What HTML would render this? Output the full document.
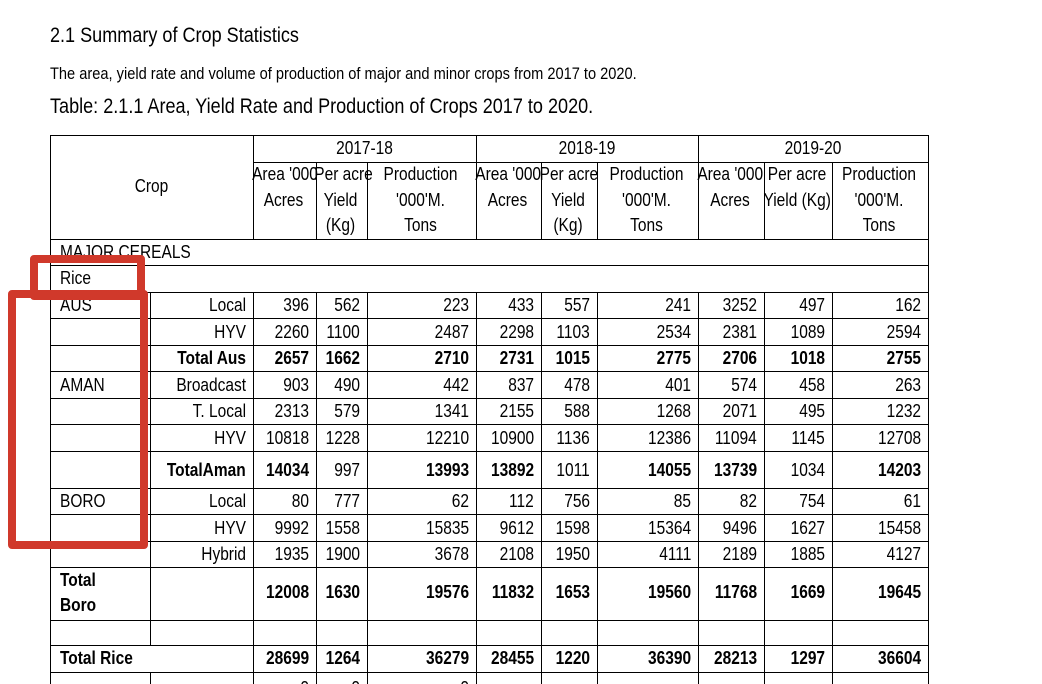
<!DOCTYPE html>
<html><head><meta charset="utf-8">
<style>
body{margin:0;background:#fff;}
#pg{position:relative;width:1042px;height:684px;overflow:hidden;background:#fff;font-family:"Liberation Sans",Arial,sans-serif;color:#000;}
.t{position:absolute;white-space:nowrap;font-size:18px;line-height:20px;}
.r{transform:scaleX(.86);transform-origin:right center;text-align:right;}
.l{transform:scaleX(.86);transform-origin:left center;}
.c{transform:scaleX(.86);transform-origin:center center;text-align:center;}
.b{font-weight:bold;}
.hl{position:absolute;height:1px;background:#000;}
.vl{position:absolute;width:1px;background:#000;}
.box{position:absolute;border:8px solid #d0392b;border-radius:4px;box-sizing:border-box;}
</style></head><body>
<div id="pg">
<div class="t l" style="left:50px;top:24px;font-size:21px;line-height:24px">2.1 Summary of Crop Statistics</div>
<div class="t l" style="left:50px;top:64px;font-size:17px">The area, yield rate and volume of production of major and minor crops from 2017 to 2020.</div>
<div class="t l" style="left:50px;top:95px;font-size:21px;line-height:24px">Table: 2.1.1 Area, Yield Rate and Production of Crops 2017 to 2020.</div>
<div id="tbl"></div>
<div class="box" style="left:30px;top:255px;width:115px;height:45px"></div>
<div class="box" style="left:8px;top:290px;width:140px;height:259px"></div>
</div>
<script>
const labels1=["AUS","","","AMAN","","","","BORO","",""];
const labels2=["Local","HYV","Total Aus","Broadcast","T. Local","HYV","TotalAman","Local","HYV","Hybrid"];
const rowVals=[
[396,562,223,433,557,241,3252,497,162],
[2260,1100,2487,2298,1103,2534,2381,1089,2594],
[2657,1662,2710,2731,1015,2775,2706,1018,2755],
[903,490,442,837,478,401,574,458,263],
[2313,579,1341,2155,588,1268,2071,495,1232],
[10818,1228,12210,10900,1136,12386,11094,1145,12708],
[14034,997,13993,13892,1011,14055,13739,1034,14203],
[80,777,62,112,756,85,82,754,61],
[9992,1558,15835,9612,1598,15364,9496,1627,15458],
[1935,1900,3678,2108,1950,4111,2189,1885,4127]];
const totalBoro=[12008,1630,19576,11832,1653,19560,11768,1669,19645];
const totalRice=[28699,1264,36279,28455,1220,36390,28213,1297,36604];
const years=["2017-18","2018-19","2019-20"];
const X=[50,150,253,316,367,476,541,597,698,764,832,928];
const rowY=[292,318,345,371,398,424,451,488,514,541,567];
const tb=document.getElementById('tbl');
function line(cls,l,t,w,h,name){const d=document.createElement('div');d.className=cls;d.style.left=l+'px';d.style.top=t+'px';
if(cls==='hl')d.style.width=w+'px';else d.style.height=h+'px';


tb.appendChild(d);}
function txt(s,x1,x2,yc,al,bold,name){const d=document.createElement('div');d.className='t '+al+(bold?' b':'');d.textContent=s;
d.style.top=(yc-10)+'px';
if(al==='r'){d.style.right=(1042-x2+7)+'px';}else if(al==='l'){d.style.left=(x1+10)+'px';}else{d.style.left=x1+'px';d.style.width=(x2-x1)+'px';d.style.overflow='visible';}


tb.appendChild(d);}
// horizontal lines
[135,239,265,292,318,345,371,398,424,451,488,514,541,567,620,645,672].forEach((y,i)=>line('hl',50,y,879,0,'row-border'));
line('hl',253,162,676,0,'year-row-border');
// outer verticals
line('vl',50,135,0,549,'table-left-border');line('vl',928,135,0,549,'table-right-border');
// header verticals
for(let i=2;i<X.length-1;i++){const major=(i===2||i===5||i===8);line('vl',X[i],major?135:162,0,major?104:77,'header-col-border');}
// body verticals
for(let i=1;i<X.length-1;i++){const top=292;const segs=(i===1)?[[292,645],[672,684]]:[[292,684]];segs.forEach(s=>line('vl',X[i],s[0],0,s[1]-s[0],'col-border'));}
// header text
txt('Crop',50,253,186,'c',false,'crop-header');
const sub=[["Area '000","Acres",""],["Per acre","Yield","(Kg)"],["Production","'000'M.","Tons"]];
const sub3=[["Area '000","Acres",""],["Per acre","Yield (Kg)",""],["Production","'000'M.","Tons"]];
years.forEach((y,k)=>{txt(y,X[2+3*k],X[5+3*k],148,'c',false,'year-header');
for(let j=0;j<3;j++){const s=(k===2?sub3:sub)[j];s.forEach((w,li)=>{if(w)txt(w,X[2+3*k+j]-6,X[3+3*k+j]+4,174+li*25.5,'c',false,'column-subheader');});}});
txt('MAJOR CEREALS',50,928,252,'l',false,'major-cereals-label');
txt('Rice',50,928,278,'l',false,'rice-label');
rowVals.forEach((r,i)=>{const yc=(rowY[i]+rowY[i+1])/2;const tot=labels2[i].startsWith('Total');
if(labels1[i])txt(labels1[i],50,150,yc,'l',false,'crop-group-label');
txt(labels2[i],150,253,yc,'r',tot,'variety-label');
r.forEach((v,j)=>{const bold=tot&&!(i===6&&(j%3===1));txt(String(v),X[2+j],X[3+j],yc,'r',bold,'cell-value');});});
txt('Total',50,150,580,'l',true,'total-boro-label');txt('Boro',50,150,605,'l',true,'total-boro-label');
totalBoro.forEach((v,j)=>txt(String(v),X[2+j],X[3+j],592,'r',true,'total-boro-value'));
txt('Total Rice',50,253,658,'l',true,'total-rice-label');
totalRice.forEach((v,j)=>txt(String(v),X[2+j],X[3+j],658,'r',true,'total-rice-value'));
[0,1,2].forEach(j=>txt('0',X[2+j],X[3+j],688,'r',false,'cell-value'));
</script>
</body></html>
